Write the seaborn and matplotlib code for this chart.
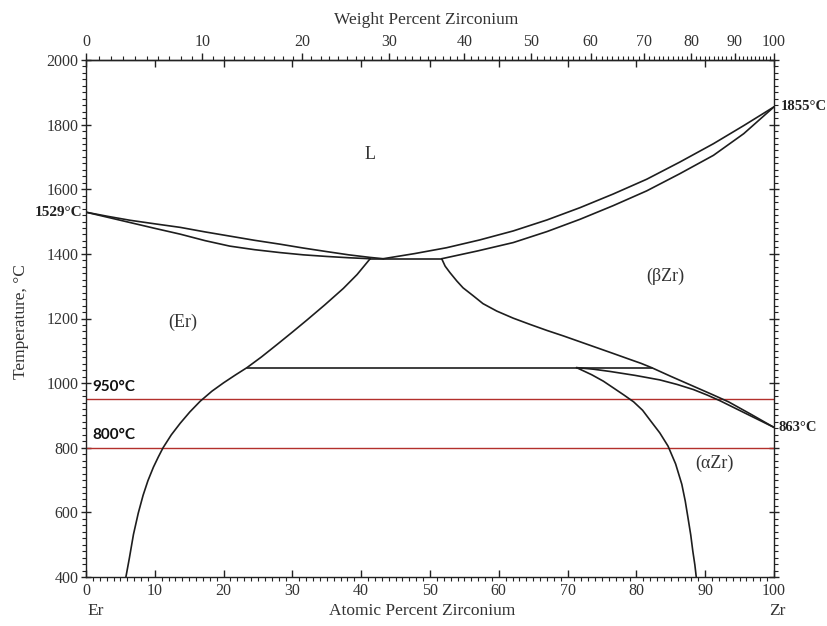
import numpy as np
import matplotlib
matplotlib.use("Agg")
import matplotlib.pyplot as plt
from matplotlib.ticker import MultipleLocator, FixedLocator
import seaborn as sns
import pandas as pd

# ---------------- data (atomic % Zr, temperature in °C) ----------------
liq_er_x = [0, 3.2, 6.4, 10.0, 13.7, 17.3, 20.9, 24.5, 28.2, 31.6, 35.0, 38.2, 41.3, 43.2]
liq_er_T = [1529, 1516, 1504, 1493, 1482, 1468, 1455, 1442, 1430, 1418, 1407, 1397, 1389, 1385]

sol_er_x = [0, 3.2, 6.4, 10.0, 13.7, 17.3, 20.9, 24.5, 28.2, 31.6, 35.0, 38.2, 41.3]
sol_er_T = [1529, 1513, 1497, 1479, 1461, 1441, 1424, 1413, 1404, 1397, 1392, 1388, 1385]

eut_x = [41.3, 51.7]
eut_T = [1385, 1385]

liq_zr_x = [43.2, 47.8, 52.4, 57.2, 62.1, 67.0, 71.8, 76.6, 81.5, 86.3, 91.2, 95.6, 100]
liq_zr_T = [1385, 1401, 1419, 1443, 1471, 1505, 1543, 1585, 1631, 1684, 1741, 1797, 1855]

sol_zr_x = [51.7, 56.9, 62.1, 67.0, 71.8, 76.6, 81.5, 86.3, 91.2, 95.6, 100]
sol_zr_T = [1385, 1409, 1435, 1469, 1507, 1549, 1595, 1648, 1705, 1772, 1855]

er_solvus_x = [5.8, 6.3, 6.9, 7.6, 8.3, 9.0, 9.8, 10.5, 11.2, 12.4, 13.7, 15.1, 16.6,
               18.3, 20.0, 21.7, 23.4, 25.5, 27.8, 30.0, 32.1, 34.7, 37.4, 39.4, 41.3]
er_solvus_T = [400, 458, 532, 598, 653, 698, 740, 771, 800, 840, 876, 911, 944,
               975, 1001, 1025, 1048, 1081, 1120, 1158, 1195, 1242, 1293, 1336, 1385]

eutectoid_x = [23.4, 82.2]
eutectoid_T = [1048, 1048]

bzr_x = [51.7, 52.2, 52.9, 53.9, 54.8, 56.3, 57.7, 59.7, 62.1, 64.5, 67.0, 69.4, 71.8,
         74.2, 76.6, 79.1, 80.7, 82.2, 85.0, 88.0, 91.0, 93.4, 96.7, 100]
bzr_T = [1385, 1362, 1342, 1316, 1295, 1270, 1246, 1223, 1201, 1182, 1163, 1146, 1128,
         1110, 1092, 1073, 1061, 1048, 1021, 993, 965, 942, 903, 863]

azr_top_x = [71.3, 73.8, 76.2, 79.8, 83.4, 85.9, 88.3, 90.3, 92.2, 94.1, 96.0, 98.0, 100]
azr_top_T = [1048, 1043, 1036, 1024, 1010, 996, 980, 963, 945, 925, 905, 884, 863]

azr_solvus_x = [71.3, 73.5, 75.2, 76.6, 78.2, 79.6, 80.9, 82.0, 83.4, 84.6, 85.7, 86.6,
                87.1, 87.5, 87.9, 88.2, 88.5, 88.7]
azr_solvus_T = [1048, 1026, 1006, 986, 963, 942, 916, 885, 846, 805, 750, 687,
                635, 583, 530, 480, 437, 400]

isotherms = [950, 800]
isotherm_labels = ["950°C", "800°C"]

wt_ticks = list(range(0, 101, 10))

M_ZR, M_ER = 91.224, 167.26

curves = {
    "liq_er": (liq_er_x, liq_er_T),
    "sol_er": (sol_er_x, sol_er_T),
    "eut": (eut_x, eut_T),
    "liq_zr": (liq_zr_x, liq_zr_T),
    "sol_zr": (sol_zr_x, sol_zr_T),
    "er_solvus": (er_solvus_x, er_solvus_T),
    "eutectoid": (eutectoid_x, eutectoid_T),
    "bzr": (bzr_x, bzr_T),
    "azr_top": (azr_top_x, azr_top_T),
    "azr_solvus": (azr_solvus_x, azr_solvus_T),
}

rows = []
for name, (xs, ts) in curves.items():
    for i, (x, t) in enumerate(zip(xs, ts)):
        rows.append({"curve": name, "order": i, "at": x, "T": t})
df = pd.DataFrame(rows)

# ---------------- figure ----------------
sns.set_theme(style="ticks")
plt.rcParams["font.family"] = ["Liberation Serif", "DejaVu Serif"]

fig = plt.figure(figsize=(8.28, 6.26), dpi=100)
ax = fig.add_axes([86 / 828, 1 - 577 / 626, 688 / 828, 517 / 626])

for name in curves:
    sub = df[df["curve"] == name]
    sns.lineplot(data=sub, x="at", y="T", sort=False, estimator=None,
                 color="#1e1e1e", linewidth=1.2, ax=ax, legend=False)

for t in isotherms:
    ax.axhline(t, color="#b3302c", linewidth=1.0, zorder=1)

ax.set_xlim(0, 100)
ax.set_ylim(400, 2000)
ax.set_xlabel("")
ax.set_ylabel("")

ax.xaxis.set_major_locator(MultipleLocator(10))
ax.xaxis.set_minor_locator(MultipleLocator(1))
ax.yaxis.set_major_locator(MultipleLocator(200))
ax.yaxis.set_minor_locator(MultipleLocator(20))

for s in ax.spines.values():
    s.set_linewidth(1.0)
    s.set_color("#222222")

tick_fs = 11.5
ax.tick_params(axis="x", which="major", direction="in", length=5, width=1,
               top=True, bottom=True, labelsize=tick_fs, pad=4, colors="#222222")
ax.tick_params(axis="x", which="minor", direction="out", length=3, width=0.8,
               top=False, bottom=True, colors="#222222")
ax.tick_params(axis="y", which="major", direction="inout", length=7, width=1,
               left=True, right=True, labelsize=tick_fs, pad=2, colors="#222222")
ax.tick_params(axis="y", which="minor", direction="out", length=3, width=0.8,
               left=True, right=True, colors="#222222")
for lab in ax.get_xticklabels() + ax.get_yticklabels():
    lab.set_color("#333333")


def at2wt(x):
    x = np.clip(np.asarray(x, dtype=float), 0, 100)
    a = x * M_ZR
    b = (100 - x) * M_ER
    return 100 * a / (a + b)


def wt2at(w):
    w = np.clip(np.asarray(w, dtype=float), 0, 100)
    a = w / M_ZR
    b = (100 - w) / M_ER
    return 100 * a / (a + b)


sec = ax.secondary_xaxis("top", functions=(at2wt, wt2at))
sec.xaxis.set_major_locator(FixedLocator(wt_ticks))
sec.xaxis.set_minor_locator(FixedLocator(list(range(0, 101, 1))))
sec.tick_params(which="major", direction="out", length=5, width=1,
                labelsize=tick_fs, pad=2, colors="#222222")
sec.tick_params(which="minor", direction="out", length=3, width=0.8, colors="#222222")
sec.spines["top"].set_linewidth(1.0)
for lab in sec.get_xticklabels():
    lab.set_color("#333333")

# ---------------- text ----------------
fs_lab = 12.5
fig.text(426 / 828, 1 - 20 / 626, "Weight Percent Zirconium", ha="center", va="center",
         fontsize=fs_lab, color="#333333")
fig.text(422 / 828, 1 - 611 / 626, "Atomic Percent Zirconium", ha="center", va="center",
         fontsize=fs_lab, color="#333333")
fig.text(96 / 828, 1 - 611 / 626, "Er", ha="center", va="center", fontsize=fs_lab, color="#333333")
fig.text(777 / 828, 1 - 611 / 626, "Zr", ha="center", va="center", fontsize=fs_lab, color="#333333")
fig.text(21 / 828, 1 - 322 / 626, "Temperature, °C", ha="center", va="center",
         rotation=90, fontsize=fs_lab, color="#333333")

fs_phase = 13
ax.text(41.3, 1706, "L", ha="center", va="center", fontsize=fs_phase, color="#333333")
ax.text(14.1, 1189, "(Er)", ha="center", va="center", fontsize=fs_phase, color="#333333")
ax.text(84.2, 1331, "(βZr)", ha="center", va="center", fontsize=fs_phase, color="#333333")
ax.text(91.4, 753, "(αZr)", ha="center", va="center", fontsize=fs_phase, color="#333333")

ax.text(-0.6, 1529, "1529°C", ha="right", va="center", fontsize=11, fontweight="bold",
        color="#222222", clip_on=False)
ax.text(101.0, 1855, "1855°C", ha="left", va="center", fontsize=10.5, fontweight="bold",
        color="#222222", clip_on=False)
ax.text(100.6, 863, "863°C", ha="left", va="center", fontsize=10.5, fontweight="bold",
        color="#222222", clip_on=False)

for t, lab in zip(isotherms, isotherm_labels):
    ax.text(0.9, t + 38, lab, ha="left", va="center", fontsize=11, fontweight="bold",
            family=["Lato", "DejaVu Sans"], color="#111111")

fig.savefig("out.png", dpi=100)
